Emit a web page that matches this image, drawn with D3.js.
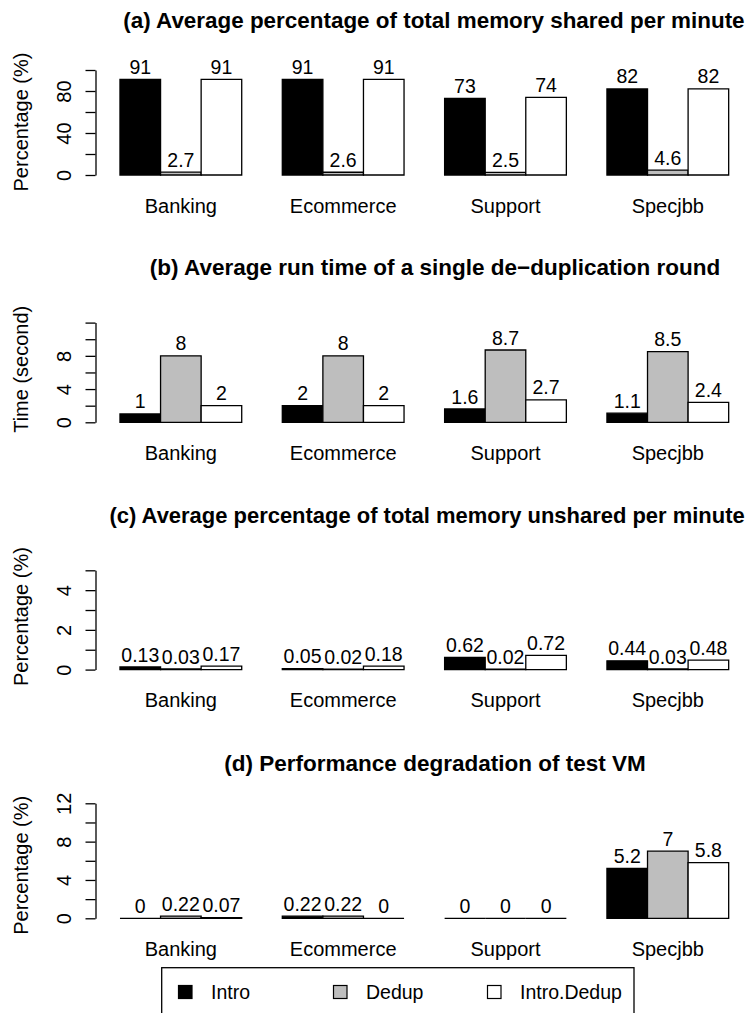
<!DOCTYPE html>
<html>
<head>
<meta charset="utf-8">
<script src="https://cdn.jsdelivr.net/npm/d3@7"></script>
<style>
  html, body { margin: 0; padding: 0; background: #fff; }
  svg { display: block; font-family: "Liberation Sans", Arial, Helvetica, sans-serif; }
</style>
</head>
<body>
<svg id="chart" width="751" height="1013"></svg>
<script>
// ---------------- data ----------------
const categories = ["Banking", "Ecommerce", "Support", "Specjbb"];
const seriesNames = ["Intro", "Dedup", "Intro.Dedup"];
const seriesColors = ["#000000", "#BEBEBE", "#FFFFFF"];

const titles = [
  "(a) Average percentage of total memory shared per minute",
  "(b) Average run time of a single de\u2212duplication round",
  "(c) Average percentage of total memory unshared per minute",
  "(d) Performance degradation of test VM"
];
const yTitles = ["Percentage (%)", "Time (second)", "Percentage (%)", "Percentage (%)"];

// panel a: shared memory
const aIntro = [91, 91, 73, 82];
const aDedup = [2.7, 2.6, 2.5, 4.6];
const aIntroDedup = [91, 91, 74, 82];
// panel b: run time
const bIntro = [1, 2, 1.6, 1.1];
const bDedup = [8, 8, 8.7, 8.5];
const bIntroDedup = [2, 2, 2.7, 2.4];
// panel c: unshared memory
const cIntro = [0.13, 0.05, 0.62, 0.44];
const cDedup = [0.03, 0.02, 0.02, 0.03];
const cIntroDedup = [0.17, 0.18, 0.72, 0.48];
// panel d: performance degradation
const dIntro = [0, 0.22, 0, 5.2];
const dDedup = [0.22, 0.22, 0, 7];
const dIntroDedup = [0.07, 0, 0, 5.8];

// y ticks and labelled ticks
const aTicks = [0, 20, 40, 60, 80, 100], aTickLabels = [0, 40, 80];
const bTicks = [0, 2, 4, 6, 8, 10, 12], bTickLabels = [0, 4, 8];
const cTicks = [0, 1, 2, 3, 4, 5], cTickLabels = [0, 2, 4];
const dTicks = [0, 2, 4, 6, 8, 10, 12], dTickLabels = [0, 4, 8, 12];

// ---------------- layout (style only) ----------------
const panels = [
  { series: [aIntro, aDedup, aIntroDedup], ticks: aTicks, tickLabels: aTickLabels, base: 175.0, topPx: 70.0 },
  { series: [bIntro, bDedup, bIntroDedup], ticks: bTicks, tickLabels: bTickLabels, base: 422.3, topPx: 322.6 },
  { series: [cIntro, cDedup, cIntroDedup], ticks: cTicks, tickLabels: cTickLabels, base: 669.6, topPx: 570.3 },
  { series: [dIntro, dDedup, dIntroDedup], ticks: dTicks, tickLabels: dTickLabels, base: 918.3, topPx: 803.3 }
];

const svg = d3.select("#chart");
const W = 751;
const unit = 40.58;
const x0 = 79.4;
const x = d3.scaleLinear().domain([0, 16]).range([x0, x0 + 16 * unit]);
const axisX = 95.5;
const titleCenter = 435;
const titleFont = 22.5;

panels.forEach((p, pi) => {
  const top = p.ticks[p.ticks.length - 1];
  const y = d3.scaleLinear().domain([0, top]).range([p.base, p.topPx]);
  const g = svg.append("g");

  // title (centred; if too wide for the page, start at the left edge it would have and shrink to fit)
  const t = g.append("text")
    .attr("x", titleCenter).attr("y", p.base - 147)
    .attr("text-anchor", "middle")
    .attr("font-weight", "bold")
    .attr("font-size", titleFont)
    .text(titles[pi]);
  const tw = t.node().getComputedTextLength();
  const rightLimit = W - 6;
  if (titleCenter + tw / 2 > rightLimit) {
    const left = Math.max(titleCenter - tw / 2, 108);
    const fs = titleFont * (rightLimit - left) / tw;
    t.attr("text-anchor", "start").attr("x", left).attr("font-size", fs);
  }

  // y axis
  const ax = d3.axisLeft(y)
    .tickValues(p.ticks)
    .tickSizeInner(10).tickSizeOuter(0)
    .tickFormat(d => p.tickLabels.includes(d) ? String(d) : "");
  const axG = g.append("g").attr("transform", `translate(${axisX},0)`).call(ax);
  axG.select(".domain").attr("stroke", "#000").attr("stroke-width", 1.3);
  axG.selectAll(".tick line").attr("stroke", "#000").attr("stroke-width", 1.3);
  axG.selectAll(".tick text")
    .attr("x", null).attr("dy", null)
    .attr("transform", "translate(-24.8,0) rotate(-90)")
    .attr("text-anchor", "middle")
    .attr("font-size", 20)
    .attr("font-family", '"Liberation Sans", Arial, sans-serif')
    .attr("fill", "#000");

  // y axis title
  g.append("text")
    .attr("transform", `translate(28,${p.base - 53}) rotate(-90)`)
    .attr("text-anchor", "middle")
    .attr("font-size", 20)
    .text(yTitles[pi]);

  // bars
  categories.forEach((cat, ci) => {
    p.series.forEach((vals, si) => {
      const l = x(1 + ci * 4 + si), r = x(2 + ci * 4 + si);
      const yt = y(vals[ci]), yb = y(0);
      g.append("path")
        .attr("d", `M${l},${yb}H${r}V${yt}H${l}Z`)
        .attr("fill", seriesColors[si])
        .attr("stroke", "#000")
        .attr("stroke-width", 1.3);
      g.append("text")
        .attr("x", (l + r) / 2).attr("y", yt - 5.5)
        .attr("text-anchor", "middle")
        .attr("font-size", 19.5)
        .text(String(vals[ci]));
    });
    // category label
    g.append("text")
      .attr("x", x(2.5 + ci * 4)).attr("y", p.base + 37.5)
      .attr("text-anchor", "middle")
      .attr("font-size", 20)
      .text(cat);
  });
});

// legend
const lg = svg.append("g");
lg.append("rect")
  .attr("x", 161.7).attr("y", 967.7)
  .attr("width", 634 - 161.7).attr("height", 60)
  .attr("fill", "none").attr("stroke", "#000").attr("stroke-width", 1.3);
const legX = [178.5, 333.5, 487.5];
seriesNames.forEach((nm, i) => {
  lg.append("rect")
    .attr("x", legX[i]).attr("y", 985.5)
    .attr("width", 13.5).attr("height", 13)
    .attr("fill", seriesColors[i]).attr("stroke", "#000").attr("stroke-width", 1.2);
  lg.append("text")
    .attr("x", legX[i] + 32.5).attr("y", 998.5)
    .attr("font-size", 19.5)
    .text(nm);
});
</script>
</body>
</html>
